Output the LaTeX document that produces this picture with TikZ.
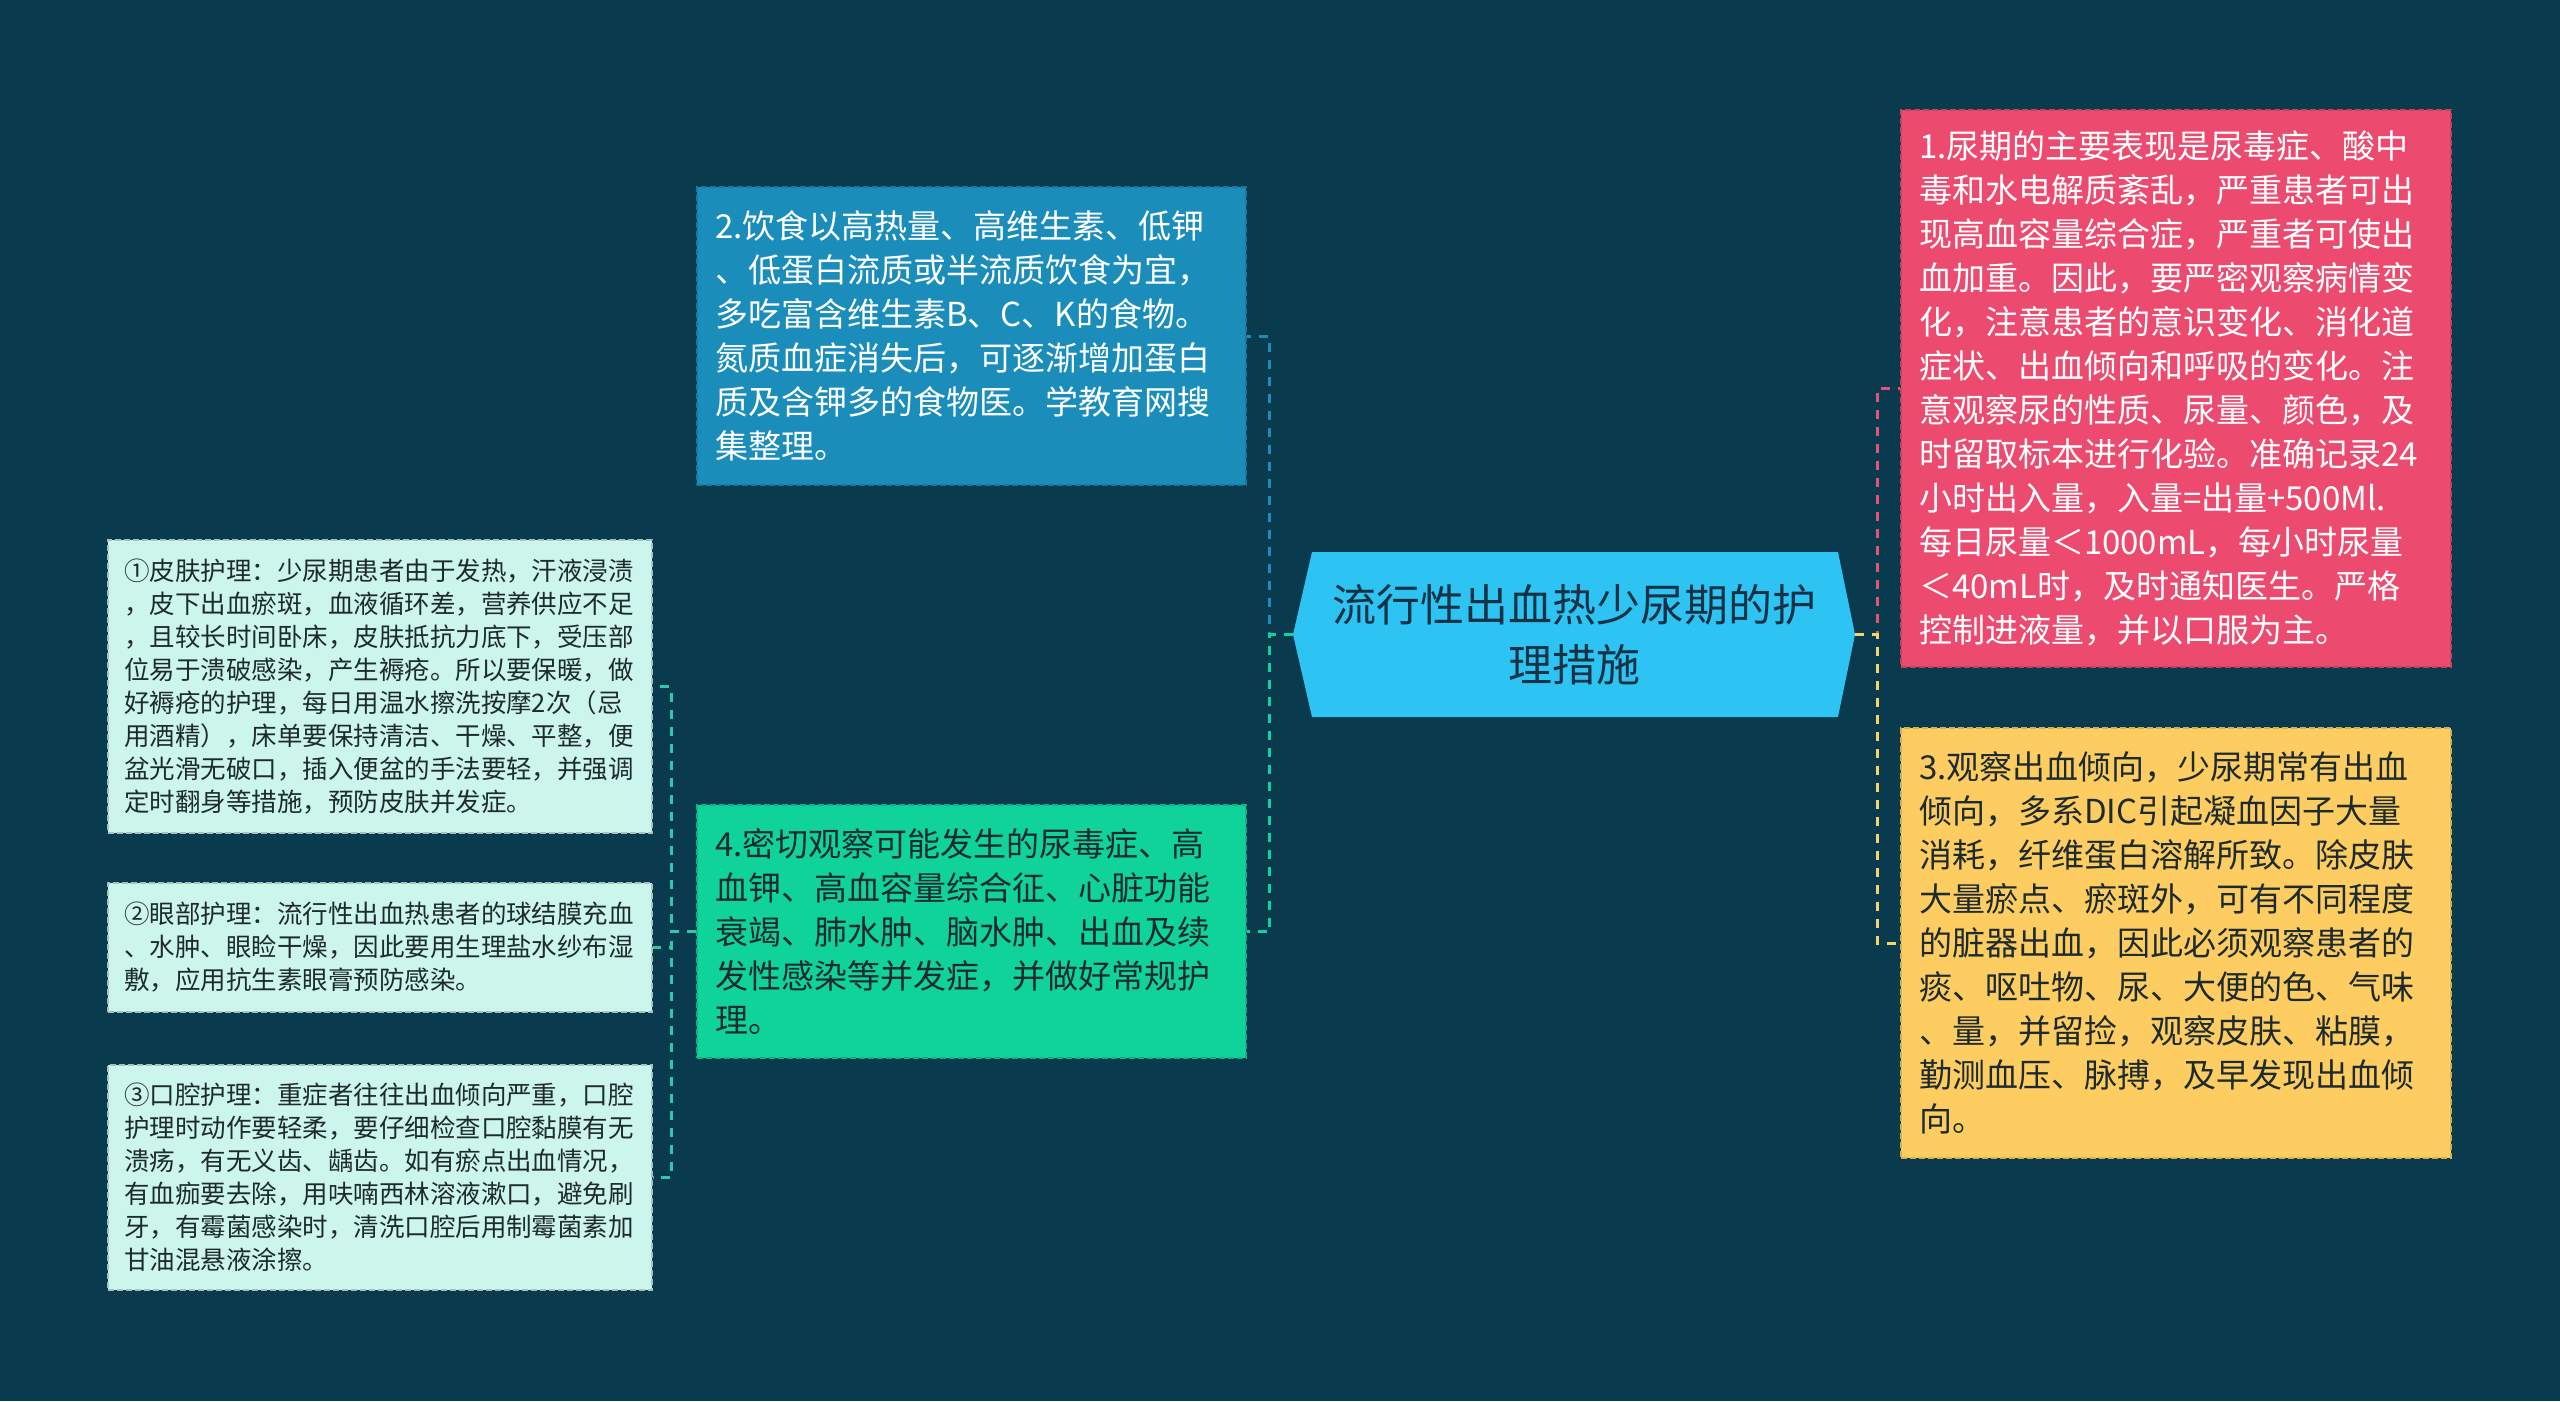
\documentclass[tikz,border=0pt]{standalone}
\usepackage{fontspec}
\setmainfont{Noto Sans CJK SC}
\usetikzlibrary{calc}
\definecolor{bg}{HTML}{093A4D}
\definecolor{cfill}{HTML}{2DC3F3}
\definecolor{ctext}{HTML}{173245}
\definecolor{bluec}{HTML}{1B8DBA}
\definecolor{pinkc}{HTML}{EC4B6F}
\definecolor{yellowc}{HTML}{FDCD62}
\definecolor{greenc}{HTML}{0FD39A}
\definecolor{lightc}{HTML}{CCF5EC}
\definecolor{tealc}{HTML}{2EC9A6}
\definecolor{pinkl}{HTML}{E2527A}
\definecolor{yellowl}{HTML}{F5D46A}
\definecolor{darktext}{HTML}{1E2B2E}
\tikzset{
  con/.style={line width=3pt, dash pattern=on 9pt off 8pt},
  bigbox/.style={rectangle, inner xsep=18pt, inner ysep=0pt, align=left,
    font=\fontsize{33}{44}\selectfont, draw, line width=1.5pt, dash pattern=on 6pt off 3pt},
  smallbox/.style={rectangle, inner xsep=16pt, inner ysep=0pt, align=left,
    font=\fontsize{25.5}{33}\selectfont, fill=lightc, draw=lightc!80!black, text=darktext,
    line width=1.5pt, dash pattern=on 6pt off 3pt, text width=512pt, minimum width=544pt},
}
\begin{document}
\begin{tikzpicture}[x=1pt,y=-1pt]
\useasboundingbox (0,0) rectangle (2560,1401);
\fill[bg] (0,0) rectangle (2560,1401);

% centre
\node[rectangle, inner sep=0pt, minimum width=562pt, minimum height=165pt,
  align=center, text=ctext, font=\fontsize{44}{60}\selectfont,
  path picture={\fill[cfill]
    ([xshift=19pt]path picture bounding box.north west) --
    ([xshift=-17pt]path picture bounding box.north east) --
    (path picture bounding box.east) --
    ([xshift=-17pt]path picture bounding box.south east) --
    ([xshift=19pt]path picture bounding box.south west) --
    (path picture bounding box.west) -- cycle;}]
  (c) at (1574,634.5) {流行性出血热少尿期的护\\理措施};

% right boxes
\node[bigbox, fill=pinkc, draw=pinkc!85!black, text=white, text width=514pt,
  minimum width=550pt, minimum height=557pt] (b1) at (2176,388.5)
{1.尿期的主要表现是尿毒症、酸中\\
毒和水电解质紊乱，严重患者可出\\
现高血容量综合症，严重者可使出\\
血加重。因此，要严密观察病情变\\
化，注意患者的意识变化、消化道\\
症状、出血倾向和呼吸的变化。注\\
意观察尿的性质、尿量、颜色，及\\
时留取标本进行化验。准确记录24\\
小时出入量，入量=出量+500Ml.\\
每日尿量＜1000mL，每小时尿量\\
＜40mL时，及时通知医生。严格\\
控制进液量，并以口服为主。};

\node[bigbox, fill=yellowc, draw=yellowc!85!black, text=darktext, text width=514pt,
  minimum width=550pt, minimum height=430pt] (b3) at (2176,943)
{3.观察出血倾向，少尿期常有出血\\
倾向，多系DIC引起凝血因子大量\\
消耗，纤维蛋白溶解所致。除皮肤\\
大量瘀点、瘀斑外，可有不同程度\\
的脏器出血，因此必须观察患者的\\
痰、呕吐物、尿、大便的色、气味\\
、量，并留捡，观察皮肤、粘膜，\\
勤测血压、脉搏，及早发现出血倾\\
向。};

% middle-left boxes
\node[bigbox, fill=bluec, draw=bluec!85!black, text=white, text width=513pt,
  minimum width=549pt, minimum height=298pt] (b2) at (971.5,336)
{2.饮食以高热量、高维生素、低钾\\
、低蛋白流质或半流质饮食为宜，\\
多吃富含维生素B、C、K的食物。\\
氮质血症消失后，可逐渐增加蛋白\\
质及含钾多的食物医。学教育网搜\\
集整理。};

\node[bigbox, fill=greenc, draw=greenc!85!black, text=darktext, text width=513pt,
  minimum width=549pt, minimum height=253pt] (b4) at (971.5,931.5)
{4.密切观察可能发生的尿毒症、高\\
血钾、高血容量综合征、心脏功能\\
衰竭、肺水肿、脑水肿、出血及续\\
发性感染等并发症，并做好常规护\\
理。};

% left boxes
\node[smallbox, minimum height=293pt] (s1) at (380,686.5)
{①皮肤护理：少尿期患者由于发热，汗液浸渍\\
，皮下出血瘀斑，血液循环差，营养供应不足\\
，且较长时间卧床，皮肤抵抗力底下，受压部\\
位易于溃破感染，产生褥疮。所以要保暖，做\\
好褥疮的护理，每日用温水擦洗按摩2次（忌\\
用酒精），床单要保持清洁、干燥、平整，便\\
盆光滑无破口，插入便盆的手法要轻，并强调\\
定时翻身等措施，预防皮肤并发症。};

\node[smallbox, minimum height=129pt] (s2) at (380,947.5)
{②眼部护理：流行性出血热患者的球结膜充血\\
、水肿、眼睑干燥，因此要用生理盐水纱布湿\\
敷，应用抗生素眼膏预防感染。};

\node[smallbox, minimum height=225pt] (s3) at (380,1177.5)
{③口腔护理：重症者往往出血倾向严重，口腔\\
护理时动作要轻柔，要仔细检查口腔黏膜有无\\
溃疡，有无义齿、龋齿。如有瘀点出血情况，\\
有血痂要去除，用呋喃西林溶液漱口，避免刷\\
牙，有霉菌感染时，清洗口腔后用制霉菌素加\\
甘油混悬液涂擦。};

% connectors
\draw[con, draw=bluec] (c.west) -- ++(-23,0) |- (b2.east);
\draw[con, draw=greenc] (c.west) -- ++(-23,0) |- (b4.east);
\draw[con, draw=pinkl] (c.east) -- ++(22,0) |- (b1.west);
\draw[con, draw=yellowl] (c.east) -- ++(22,0) |- (b3.west);
\draw[con, draw=tealc] (b4.west) -- ++(-25,0) |- (s1.east);
\draw[con, draw=tealc] (b4.west) -- ++(-25,0) |- (s2.east);
\draw[con, draw=tealc] (b4.west) -- ++(-25,0) |- (s3.east);
\end{tikzpicture}
\end{document}
